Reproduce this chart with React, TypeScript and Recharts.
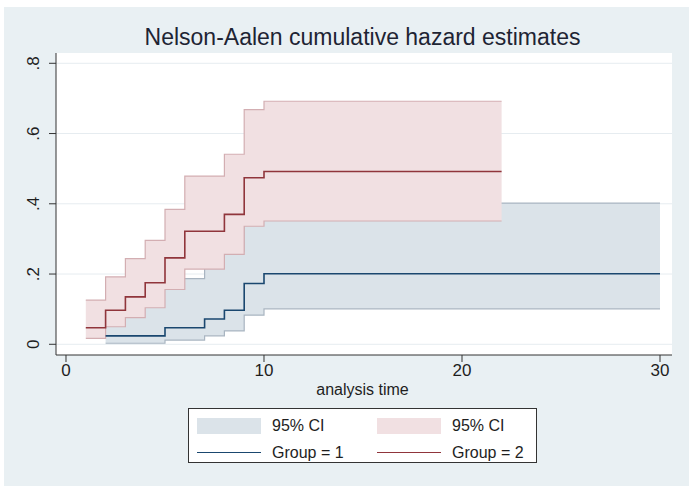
import React from "react";
import {
  ComposedChart,
  Area,
  Line,
  XAxis,
  YAxis,
  CartesianGrid,
} from "recharts";

// group 1 (blue) step points
const times1 = [2, 5, 7, 8, 9, 10, 30];
const est1 = [0.024, 0.047, 0.072, 0.097, 0.173, 0.201, 0.201];
const lo1 = [0.003, 0.012, 0.024, 0.038, 0.083, 0.101, 0.101];
const hi1 = [0.17, 0.187, 0.23, 0.265, 0.36, 0.402, 0.402];

// group 2 (red) step points
const times2 = [1, 2, 3, 4, 5, 6, 8, 9, 10, 22];
const est2 = [0.047, 0.097, 0.135, 0.175, 0.246, 0.322, 0.37, 0.474, 0.492, 0.492];
const lo2 = [0.017, 0.05, 0.076, 0.104, 0.156, 0.214, 0.256, 0.336, 0.351, 0.351];
const hi2 = [0.126, 0.192, 0.244, 0.296, 0.384, 0.479, 0.541, 0.668, 0.692, 0.692];

const xTicks = [0, 10, 20, 30];
const yTicks = [0, 0.2, 0.4, 0.6, 0.8];

const font = "'Liberation Sans', Arial, sans-serif";

const blueLine = "#1a476f";
const redLine = "#90353b";
const blueFill = "#dbe3e9";
const redFill = "#f1e0e2";
const blueEdge = "#a9b5c1";
const redEdge = "#d3aeb2";

const rows1 = times1.map((t, i) => ({ t, est: est1[i], ci: [lo1[i], hi1[i]] }));
const rows2 = times2.map((t, i) => ({ t, est: est2[i], ci: [lo2[i], hi2[i]] }));

const fmtY = (v: number) => (v === 0 ? "0" : String(v.toFixed(1)).replace(/^0/, ""));

const YTick = (props: any) => {
  const { x, y, payload } = props;
  return (
    <text
      x={x}
      y={y}
      transform={`rotate(-90, ${x}, ${y})`}
      textAnchor="middle"
      fontSize={17}
      fontFamily={font}
      fill="#1e1e1e"
    >
      {fmtY(payload.value)}
    </text>
  );
};

const LegendRow = ({ swatch, label }: { swatch: React.ReactNode; label: string }) => (
  <div style={{ display: "flex", alignItems: "center", width: 180 }}>
    {swatch}
    <span style={{ marginLeft: 11 }}>{label}</span>
  </div>
);

const box = (c: string) => <div style={{ width: 64, height: 16, background: c }} />;
const line = (c: string) => (
  <div style={{ width: 64, height: 0, borderTop: `1.5px solid ${c}` }} />
);

export default function App() {
  return (
    <div
      style={{
        position: "absolute",
        left: 0,
        top: 0,
        width: 697,
        height: 494,
        background: "#fff",
        fontFamily: font,
        color: "#1e1e1e",
      }}
    >
      <div
        style={{
          position: "absolute",
          left: 4,
          top: 7,
          width: 685,
          height: 479,
          background: "#e9f0f3",
        }}
      />
      <div
        style={{
          position: "absolute",
          left: 0,
          top: 24,
          width: 725,
          textAlign: "center",
          fontSize: 23,
          color: "#1e2433",
        }}
      >
        Nelson-Aalen cumulative hazard estimates
      </div>
      <div style={{ position: "absolute", left: 0, top: 0 }}>
        <ComposedChart
          width={697}
          height={494}
          margin={{ top: 53, right: 25, bottom: 109, left: 0 }}
        >
          <CartesianGrid
            vertical={false}
            fill="#ffffff"
            stroke="#e6ecf0"
            horizontalValues={yTicks}
          />
          <XAxis
            type="number"
            dataKey="t"
            domain={[-0.505, 30.606]}
            allowDataOverflow
            ticks={xTicks}
            height={30}
            tickSize={7}
            tickMargin={2}
            stroke="#333"
            tick={{ fontSize: 17, fontFamily: font, fill: "#1e1e1e" }}
          />
          <YAxis
            type="number"
            domain={[-0.0305, 0.8293]}
            allowDataOverflow
            ticks={yTicks}
            width={56}
            tickSize={7}
            tickMargin={10}
            stroke="#333"
            tick={<YTick />}
          />
          <Area
            data={rows1}
            dataKey="ci"
            type="stepAfter"
            fill={blueFill}
            fillOpacity={1}
            stroke={blueEdge}
            strokeWidth={1.2}
            isAnimationActive={false}
          />
          <Area
            data={rows2}
            dataKey="ci"
            type="stepAfter"
            fill={redFill}
            fillOpacity={1}
            stroke={redEdge}
            strokeWidth={1.2}
            isAnimationActive={false}
          />
          <Line
            data={rows1}
            dataKey="est"
            type="stepAfter"
            stroke={blueLine}
            strokeWidth={1.6}
            dot={false}
            isAnimationActive={false}
          />
          <Line
            data={rows2}
            dataKey="est"
            type="stepAfter"
            stroke={redLine}
            strokeWidth={1.6}
            dot={false}
            isAnimationActive={false}
          />
        </ComposedChart>
      </div>
      <div
        style={{
          position: "absolute",
          left: 0,
          top: 381,
          width: 725,
          textAlign: "center",
          fontSize: 16,
        }}
      >
        analysis time
      </div>
      <div
        style={{
          position: "absolute",
          left: 188,
          top: 408,
          width: 349,
          height: 55,
          boxSizing: "border-box",
          border: "1px solid #333",
          background: "#fff",
          padding: "7px 0 0 8px",
          fontSize: 16,
          display: "grid",
          gridTemplateColumns: "180px 160px",
          rowGap: 8,
        }}
      >
        <LegendRow swatch={box(blueFill)} label="95% CI" />
        <LegendRow swatch={box(redFill)} label="95% CI" />
        <LegendRow swatch={line(blueLine)} label="Group = 1" />
        <LegendRow swatch={line(redLine)} label="Group = 2" />
      </div>
    </div>
  );
}
